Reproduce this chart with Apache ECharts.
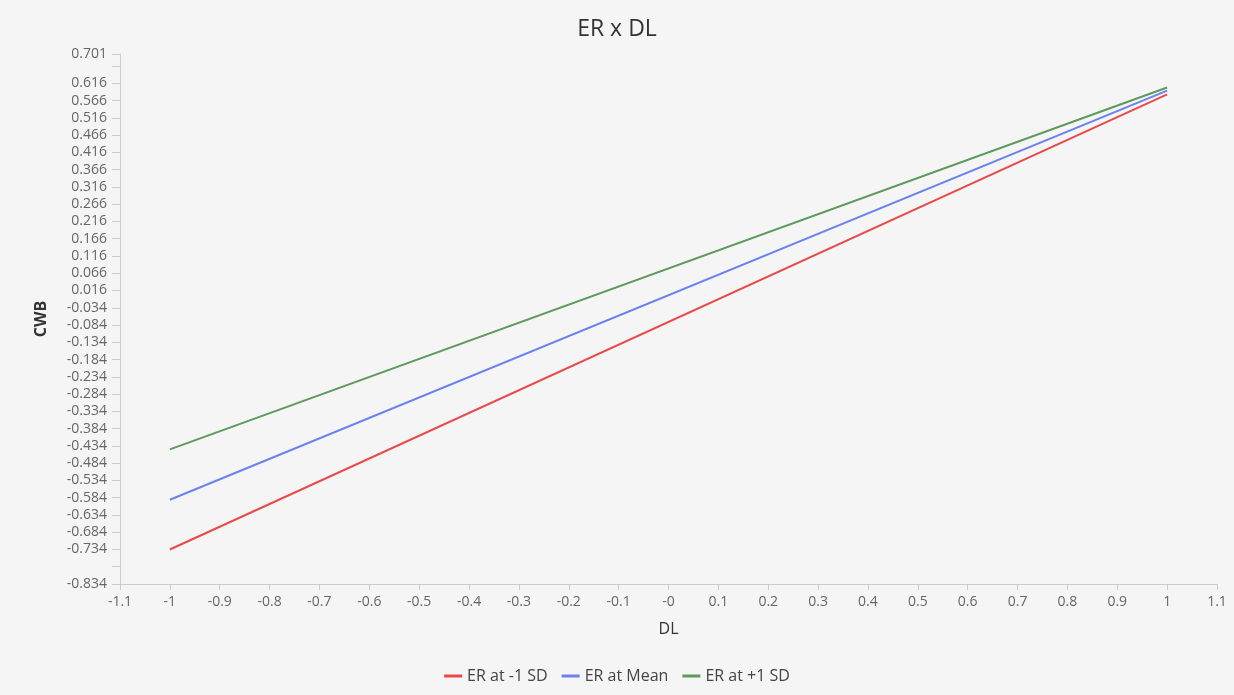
<!DOCTYPE html>
<html style="height: 100%">
<head>
  <meta charset="utf-8">
  <title>ER x DL</title>
</head>
<body style="height: 100%; margin: 0; background: #f5f5f5">
  <div id="main" style="width: 1234px; height: 695px"></div>
  <script src="https://cdn.jsdelivr.net/npm/echarts@6/dist/echarts.min.js"></script>
  <script type="text/javascript">
    // simple slopes, DL from -1 to 1
    var dlValues = [-1, 1];
    var erLow = [-0.734, 0.584];   // ER at -1 SD
    var erMean = [-0.590, 0.595];  // ER at Mean
    var erHigh = [-0.444, 0.604];  // ER at +1 SD

    // y axis ticks as shown in the picture
    var yLabels = [-0.834, -0.734, -0.684, -0.634, -0.584, -0.534, -0.484, -0.434, -0.384,
      -0.334, -0.284, -0.234, -0.184, -0.134, -0.084, -0.034, 0.016, 0.066, 0.116, 0.166,
      0.216, 0.266, 0.316, 0.366, 0.416, 0.466, 0.516, 0.566, 0.616, 0.701];
    var yTicks = yLabels.concat([-0.784, 0.666]);

    function pairs(ys) {
      var out = [];
      for (var i = 0; i < dlValues.length; i++) {
        out.push([dlValues[i], ys[i]]);
      }
      return out;
    }

    var font = '"Open Sans", "Noto Sans", sans-serif';
    var myChart = echarts.init(document.getElementById('main'));
    var option = {
      backgroundColor: '#f5f5f5',
      textStyle: { fontFamily: font },
      title: {
        text: 'ER x DL',
        left: 'center',
        top: 13,
        textStyle: { fontFamily: font, fontSize: 23, fontWeight: 'normal', color: '#333' }
      },
      legend: {
        bottom: 6,
        left: 'center',
        icon: 'rect',
        itemWidth: 18,
        itemHeight: 3,
        itemGap: 14,
        textStyle: { fontFamily: font, fontSize: 16, color: '#444' },
        data: ['ER at -1 SD', 'ER at Mean', 'ER at +1 SD']
      },
      grid: { left: 120, right: 17, top: 54, bottom: 111 },
      xAxis: {
        type: 'value',
        min: -1.1,
        max: 1.1,
        interval: 0.1,
        name: 'DL',
        nameLocation: 'middle',
        nameGap: 37,
        nameTextStyle: { fontFamily: font, fontSize: 16, color: '#333' },
        axisLine: { show: true, onZero: false, lineStyle: { color: '#ccc' } },
        axisTick: { show: true, length: 6, lineStyle: { color: '#ccc' } },
        splitLine: { show: false },
        axisLabel: {
          color: '#666',
          fontSize: 14,
          margin: 11,
          formatter: function (v) {
            if (Math.abs(v) < 1e-9) return '-0';
            return String(Math.round(v * 10) / 10);
          }
        }
      },
      yAxis: {
        type: 'value',
        min: -0.834,
        max: 0.701,
        name: 'CWB',
        nameLocation: 'middle',
        nameGap: 71,
        nameTextStyle: { fontFamily: font, fontSize: 16, fontWeight: 'bold', color: '#333' },
        axisLine: { show: true, onZero: false, lineStyle: { color: '#ccc' } },
        axisTick: { show: true, length: 8, customValues: yTicks, lineStyle: { color: '#ccc' } },
        splitLine: { show: false },
        axisLabel: {
          color: '#666',
          fontSize: 14,
          margin: 13,
          customValues: yLabels,
          formatter: function (v) { return v.toFixed(3); }
        }
      },
      series: [
        {
          name: 'ER at -1 SD', type: 'line', data: pairs(erLow),
          showSymbol: false, color: '#e84a4a', lineStyle: { width: 2 }
        },
        {
          name: 'ER at Mean', type: 'line', data: pairs(erMean),
          showSymbol: false, color: '#6b82ee', lineStyle: { width: 2 }
        },
        {
          name: 'ER at +1 SD', type: 'line', data: pairs(erHigh),
          showSymbol: false, color: '#5d9a5d', lineStyle: { width: 2 }
        }
      ]
    };
    myChart.setOption(option);
  </script>
</body>
</html>
